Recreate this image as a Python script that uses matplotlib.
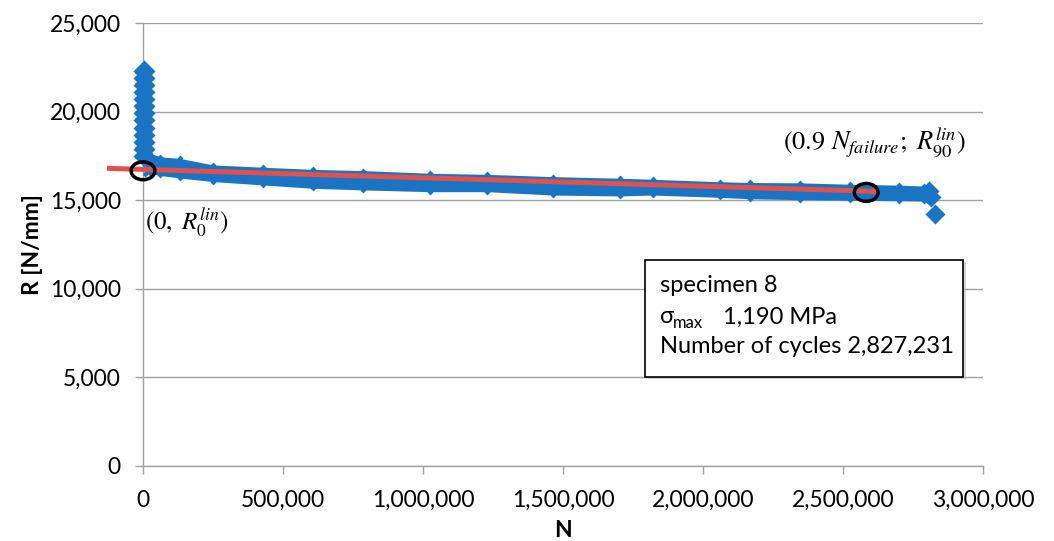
import matplotlib
matplotlib.use("Agg")
import matplotlib.pyplot as plt
from matplotlib.patches import Ellipse, Rectangle
from matplotlib.ticker import FuncFormatter, MultipleLocator

plt.rcParams['font.family'] = ['Lato', 'DejaVu Sans']

# initial spike of readings at N ~ 0
spike_N = [3000] * 13
spike_R = [22300, 21900, 21500, 21100, 20700, 20300, 19900, 19500, 19100, 18700, 18300, 17900, 17500]

# scatter band (upper / lower envelope of the measured points)
band_N = [8000, 25000, 60000, 132000, 250000, 429000, 607000, 786000, 1025000, 1229000,
          1464000, 1704000, 1821000, 2061000, 2168000, 2346000, 2525000, 2700000, 2790000, 2805000]
band_hi = [17700, 17650, 17450, 17360, 16990, 16860, 16740, 16670, 16520, 16460,
           16330, 16240, 16180, 16040, 16000, 15980, 15900, 15850, 15800, 15700]
band_lo = [16500, 16520, 16400, 16250, 16050, 15860, 15670, 15580, 15480, 15480,
           15290, 15240, 15290, 15160, 15080, 15030, 15000, 14970, 14950, 14950]

# last readings before failure
tail_N = [2808000, 2816000, 2827231]
tail_R = [15500, 15200, 14200]

# linear fit
fit_N = [-128600, 2632000]
fit_R = [16800, 15490]

# marked points
mark_N = [0, 2583000]
mark_R = [16660, 15440]

blue = '#1A74C4'
red = '#E0524C'
grid = '#A0A0A0'

fig = plt.figure(figsize=(10.54, 5.41), dpi=100)
ax = fig.add_axes([143/1054, 75/541, 840/1054, 443/541])

ax.fill_between(band_N, band_lo, band_hi, color=blue, lw=0, zorder=3)
ax.plot(band_N, band_hi, 'D', color=blue, ms=3, mec='none', zorder=3)
ax.plot(band_N, band_lo, 'D', color=blue, ms=3, mec='none', zorder=3)
ax.plot(spike_N, spike_R, 'D', color=blue, ms=11, mec='none', zorder=3, clip_on=False)
ax.plot(tail_N, tail_R, 'D', color=blue, ms=10, mec='none', zorder=3)

ax.plot(fit_N, fit_R, color=red, lw=3.6, solid_capstyle='butt', zorder=4, clip_on=False)

for n, r in zip(mark_N, mark_R):
    ax.add_patch(Ellipse((n, r), 85000, 1010, fill=False, ec='black', lw=2.5,
                         zorder=5, clip_on=False))

ax.text(7000, 13750, r'$(0,\ R_0^{lin})$', math_fontfamily='stix', fontsize=18,
        va='center', ha='left')
ax.text(2285000, 18250, r'$(0.9\ N_{failure};\ R_{90}^{lin})$', math_fontfamily='stix',
        fontsize=19, va='center', ha='left')

# info box
ax.add_patch(Rectangle((0.6006, 0.1965), 0.3786, 0.2641, transform=ax.transAxes,
                       fc='#BBBBBB', ec='none', alpha=0.6, zorder=6))
ax.add_patch(Rectangle((0.5976, 0.2009), 0.3786, 0.2641, transform=ax.transAxes,
                       fc='white', ec='black', lw=1.2, zorder=7))
ax.text(0.6155, 0.3935, 'specimen 8', transform=ax.transAxes, fontsize=17,
        va='baseline', zorder=8)
ax.text(0.6155, 0.322, 'σ', transform=ax.transAxes, fontsize=17,
        va='baseline', zorder=8)
ax.text(0.6310, 0.311, 'max', transform=ax.transAxes, fontsize=12,
        va='baseline', zorder=8)
ax.text(0.6905, 0.322, '1,190 MPa', transform=ax.transAxes, fontsize=17,
        va='baseline', zorder=8)
ax.text(0.6155, 0.2544, 'Number of cycles 2,827,231', transform=ax.transAxes,
        fontsize=17, va='baseline', zorder=8)

ax.set_xlim(0, 3000000)
ax.set_ylim(0, 25000)
ax.xaxis.set_major_locator(MultipleLocator(500000))
ax.yaxis.set_major_locator(MultipleLocator(5000))
fmt = FuncFormatter(lambda v, p: '{:,.0f}'.format(v))
ax.xaxis.set_major_formatter(fmt)
ax.yaxis.set_major_formatter(fmt)

ax.grid(axis='y', color=grid, lw=1.0, zorder=0)
ax.set_axisbelow(True)
for s in ['top', 'right']:
    ax.spines[s].set_visible(False)
for s in ['left', 'bottom']:
    ax.spines[s].set_color(grid)
    ax.spines[s].set_linewidth(1.0)
ax.tick_params(axis='both', direction='out', length=6, width=1.0, color=grid,
               labelsize=16.5, labelcolor='black')
ax.tick_params(axis='y', pad=10)
ax.tick_params(axis='x', pad=11)

ax.set_xlabel('N', fontsize=16.5, fontweight='bold', labelpad=7)
ax.set_ylabel('R [N/mm]', fontsize=16.5, fontweight='bold', labelpad=5)

fig.savefig('out.png', dpi=100)
